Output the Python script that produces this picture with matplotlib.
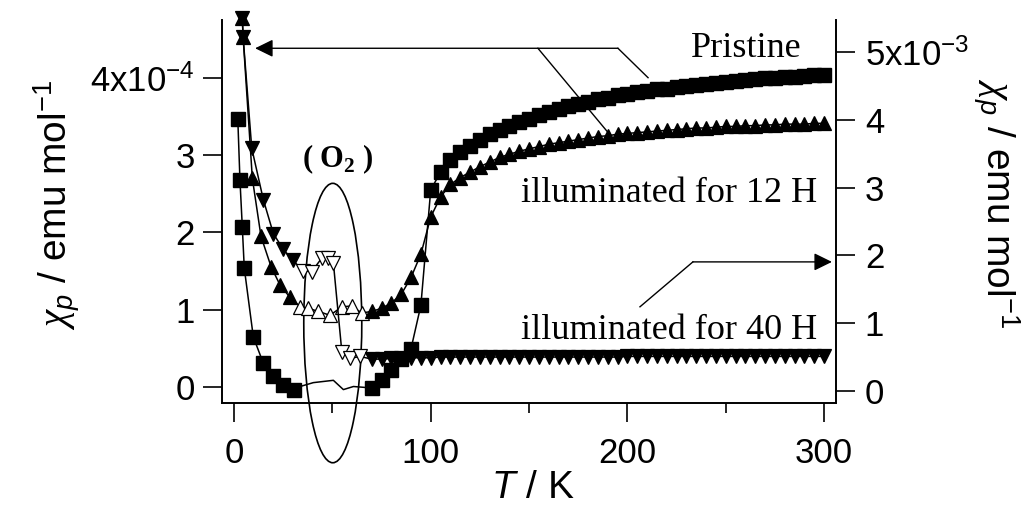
import matplotlib
matplotlib.use("Agg")
import matplotlib.pyplot as plt
from matplotlib.patches import Ellipse

plt.rcParams['font.family'] = ['Liberation Sans', 'DejaVu Sans']
plt.rcParams['mathtext.fontset'] = 'custom'
plt.rcParams['mathtext.rm'] = 'Liberation Sans'
plt.rcParams['mathtext.it'] = 'Liberation Sans:italic'
plt.rcParams['mathtext.bf'] = 'Liberation Sans:bold'
plt.rcParams['mathtext.cal'] = 'Liberation Serif:italic'   # used for the chi

# ---- data ----
# pristine (left axis, x1e-4 emu/mol)
pristine_T = [1.9, 3.0, 4.2, 5.2, 9.8, 14.9, 20.0, 25.1, 30.5,
              33.6, 40.3, 50.5, 55.6, 60.7, 65.7,
              70, 75, 80, 85, 90, 95, 100, 105, 110, 115,
              120, 125, 130, 135, 140, 145, 150, 155, 160, 165,
              170, 175, 180, 185, 190, 195, 200, 205, 210, 215,
              220, 225, 230, 235, 240, 245, 250, 255, 260, 265,
              270, 275, 280, 285, 290, 295, 300]
pristine_chi = [3.47, 2.68, 2.07, 1.54, 0.65, 0.31, 0.14, 0.03, -0.03,
                0.01, 0.06, 0.09, -0.03, 0.01, 0.00,
                -0.01, 0.09, 0.22, 0.37, 0.50, 1.06, 2.55, 2.78, 2.94, 3.04,
                3.12, 3.20, 3.27, 3.33, 3.38, 3.43, 3.47, 3.52, 3.56, 3.59,
                3.63, 3.66, 3.69, 3.72, 3.74, 3.77, 3.79, 3.81, 3.83, 3.85,
                3.86, 3.88, 3.89, 3.91, 3.92, 3.93, 3.95, 3.96, 3.97, 3.98,
                3.99, 4.00, 4.01, 4.01, 4.02, 4.03, 4.04]

# illuminated for 12 H (left axis, x1e-4 emu/mol)
h12_T = [4.2, 4.6, 9.3, 13.7, 18.8, 23.4, 28.5,
         33.6, 37.8, 42.9, 48.8, 54.8, 59.8, 64.9,
         70, 75, 80, 85, 90, 95, 100, 105, 110, 115,
         120, 125, 130, 135, 140, 145, 150, 155, 160, 165,
         170, 175, 180, 185, 190, 195, 200, 205, 210, 215,
         220, 225, 230, 235, 240, 245, 250, 255, 260, 265,
         270, 275, 280, 285, 290, 295, 300]
h12_chi = [4.77, 4.53, 2.70, 1.95, 1.56, 1.32, 1.16,
           1.04, 1.02, 0.98, 0.93, 1.04, 1.05, 0.96,
           0.98, 1.02, 1.09, 1.20, 1.42, 1.72, 2.20, 2.46, 2.62, 2.71,
           2.78, 2.85, 2.91, 2.97, 3.01, 3.05, 3.08, 3.11, 3.14, 3.16,
           3.18, 3.20, 3.22, 3.24, 3.25, 3.27, 3.28, 3.29, 3.30, 3.31,
           3.32, 3.33, 3.34, 3.35, 3.35, 3.36, 3.37, 3.37, 3.38, 3.38,
           3.39, 3.39, 3.40, 3.40, 3.40, 3.41, 3.41]

# illuminated for 40 H (right axis, x1e-3 emu/mol)
h40_T = [4.2, 4.6, 9.0, 14.9, 20.0, 25.0, 29.8,
         35.2, 39.5, 44.6, 48.0, 50.5, 54.8, 59.0, 64.0,
         70, 75, 80, 85, 90, 95, 100, 105, 110, 115,
         120, 125, 130, 135, 140, 145, 150, 155, 160, 165,
         170, 175, 180, 185, 190, 195, 200, 205, 210, 215,
         220, 225, 230, 235, 240, 245, 250, 255, 260, 265,
         270, 275, 280, 285, 290, 295, 300]
h40_chi = [5.50, 5.22, 3.58, 2.82, 2.32, 2.09, 1.93,
           1.77, 1.76, 1.96, 1.96, 1.89, 0.58, 0.48, 0.51,
           0.47, 0.47, 0.48, 0.48, 0.49, 0.49, 0.49, 0.50, 0.50, 0.50,
           0.50, 0.50, 0.50, 0.50, 0.50, 0.50, 0.50, 0.50, 0.50, 0.50,
           0.50, 0.50, 0.50, 0.50, 0.50, 0.50, 0.51, 0.51, 0.51, 0.51,
           0.51, 0.51, 0.51, 0.51, 0.51, 0.51, 0.51, 0.51, 0.51, 0.51,
           0.51, 0.51, 0.51, 0.51, 0.51, 0.51, 0.51]

o2_window = (32, 67)   # O2 region: open symbols / no symbols

left_ticks = [0, 1, 2, 3, 4]
left_ticklabels = ['0', '1', '2', '3', r'4x10$^{\mathregular{-4}}$']
right_ticks = [0, 1, 2, 3, 4, 5]
right_ticklabels = ['0', '1', '2', '3', '4', r'5x10$^{\mathregular{-3}}$']

# ---- figure ----
fig = plt.figure(figsize=(10.28, 5.12), dpi=100)
ax1 = fig.add_axes([0.2160, 0.2129, 0.5973, 0.7480])
ax2 = ax1.twinx()

lw = 1.1
ms_sq = 10.5
ms_tri = 10.5

def inside(t):
    return o2_window[0] < t < o2_window[1]

# pristine: line everywhere, squares outside the O2 window
ax1.plot(pristine_T, [v * 1e-4 for v in pristine_chi], '-', color='k', lw=lw, zorder=3, clip_on=False)
pT = [t for t in pristine_T if not inside(t)]
pC = [v * 1e-4 for t, v in zip(pristine_T, pristine_chi) if not inside(t)]
ax1.plot(pT, pC, 's', color='k', ms=ms_sq, zorder=4, clip_on=False)

# 12 H: up triangles, open inside the O2 window
ax1.plot(h12_T, [v * 1e-4 for v in h12_chi], '-', color='k', lw=lw, zorder=3, clip_on=False)
for t, v in zip(h12_T, h12_chi):
    fc = 'white' if inside(t) else 'k'
    ax1.plot([t], [v * 1e-4], '^', mfc=fc, mec='k', mew=0.9, ms=ms_tri, zorder=4, clip_on=False)

# 40 H: down triangles on the right axis
ax2.plot(h40_T, [v * 1e-3 for v in h40_chi], '-', color='k', lw=lw, zorder=3, clip_on=False)
for t, v in zip(h40_T, h40_chi):
    fc = 'white' if inside(t) else 'k'
    ax2.plot([t], [v * 1e-3], 'v', mfc=fc, mec='k', mew=0.9, ms=ms_tri, zorder=4, clip_on=False)

# axes limits
ax1.set_xlim(-6.1, 306.1)
ax1.set_ylim(-0.203e-4, 4.745e-4)
ax2.set_ylim(-0.177e-3, 5.47e-3)

# spines
for s in ['top', 'right']:
    ax1.spines[s].set_visible(False)
for s in ['top', 'left', 'bottom']:
    ax2.spines[s].set_visible(False)
for a in (ax1, ax2):
    for s in a.spines.values():
        s.set_linewidth(1.4)

# ticks
tick_fs = 25
ax1.set_xticks([0, 100, 200, 300])
ax1.set_xticks([50, 150, 250], minor=True)
ax1.set_xticklabels(['0', '100', '200', '300'])
ax1.set_yticks([v * 1e-4 for v in left_ticks])
ax1.set_yticklabels(left_ticklabels)
ax2.set_yticks([v * 1e-3 for v in right_ticks])
ax2.set_yticklabels(right_ticklabels)
ax1.tick_params(axis='x', which='major', direction='out', length=13.7, width=1.2, pad=11, labelsize=tick_fs)
ax1.tick_params(axis='x', which='minor', direction='out', length=7.2, width=1.2)
ax1.tick_params(axis='y', which='major', direction='out', length=13.7, width=1.2, pad=6, labelsize=tick_fs)
ax2.tick_params(axis='y', which='major', direction='out', length=13.7, width=1.2, pad=7, labelsize=tick_fs)

# axis labels
ylab = r'$\mathcal{\chi}_p$ / emu mol$^{\mathregular{-1}}$'
fig.text(533 / 1028, 1 - 488 / 512, r'$T$ / K', ha='center', va='center', fontsize=28)
fig.text(57 / 1028, 1 - 205 / 512, ylab, rotation=90, ha='center', va='center', fontsize=28)
fig.text(996 / 1028, 1 - 203 / 512, ylab, rotation=270, ha='center', va='center', fontsize=28)

# O2 ellipse and label
ax1.add_patch(Ellipse((50.2, 0.83e-4), 29.5, 3.61e-4, fill=False, ec='k', lw=1.2,
                      zorder=2, clip_on=False))
ax1.text(52.9, 2.846e-4, r'( O$_{\mathregular{2}}$ )', ha='center', va='baseline',
         family='Liberation Serif', weight='bold', fontsize=22)

# series labels
serif = dict(family='Liberation Serif', fontsize=26, ha='right', va='baseline')
ax1.text(288.8, 4.27e-4, 'Pristine', **serif)
ax1.text(296.4, 2.39e-4, 'illuminated for 12 H', **serif)
ax1.text(296.4, 0.624e-4, 'illuminated for 40 H', **serif)

# pointer lines: Pristine / 12 H -> left axis
arrow = dict(arrowstyle='-|>,head_length=0.55,head_width=0.27', color='k', lw=1,
             shrinkA=0, shrinkB=0, mutation_scale=20)
ax1.annotate('', xy=(10.7, 4.38e-4), xytext=(195.2, 4.38e-4), arrowprops=arrow,
             annotation_clip=False, zorder=1)
ax1.plot([195.2, 210.5], [4.38e-4, 4.0e-4], '-', color='k', lw=1, zorder=1)
ax1.plot([154.5, 191.2], [4.38e-4, 3.26e-4], '-', color='k', lw=1, zorder=1)
# 40 H -> right axis
ax1.plot([206.4, 233.3], [1.04e-4, 1.62e-4], '-', color='k', lw=1, zorder=1)
ax1.annotate('', xy=(304.0, 1.62e-4), xytext=(233.3, 1.62e-4), arrowprops=arrow,
             annotation_clip=False, zorder=1)

fig.savefig('out.png', dpi=100)
